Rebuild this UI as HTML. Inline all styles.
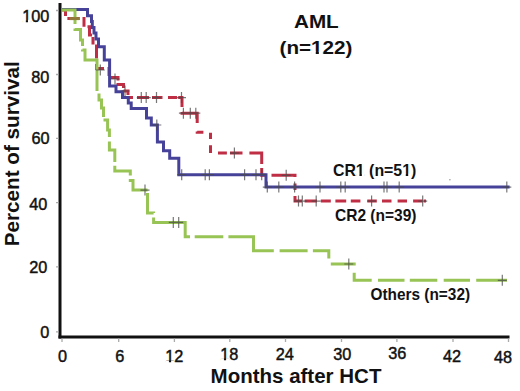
<!DOCTYPE html>
<html><head><meta charset="utf-8">
<style>
html,body{margin:0;padding:0;background:#fff;}
body{width:520px;height:391px;overflow:hidden;position:relative;}
svg{position:absolute;left:0;top:0;}
.t{font-family:"Liberation Sans",sans-serif;}
</style></head><body>
<svg width="520" height="391" viewBox="0 0 520 391">
<g stroke="#111" stroke-width="3" fill="none" stroke-linecap="butt">
<path d="M60,3 V338.5"/>
<path d="M58.5,337 H509.5"/>
</g>
<g stroke="#aaa" stroke-width="1.3">
<path d="M56,10.5 H58.5 M56,74.5 H58.5 M56,138.4 H58.5 M56,202.7 H58.5 M56,266.8 H58.5 M56,331.9 H58.5"/>
<path d="M62,338.5 V342 M118.7,338.5 V342 M174.4,338.5 V342 M229.8,338.5 V342 M285.5,338.5 V342 M341.5,338.5 V342 M396.9,338.5 V342 M453,338.5 V342 M508.5,338.5 V342"/>
</g>
<g class="t" font-size="16.3" fill="#111" stroke="#111" stroke-width="0.45" text-anchor="end">
<text x="49.3" y="21.7">100</text>
<text x="49.3" y="82.8">80</text>
<text x="49.5" y="143.9">60</text>
<text x="47.3" y="210.1">40</text>
<text x="47.3" y="272.6">20</text>
<text x="49.3" y="337.6">0</text>
</g>
<g class="t" font-size="16.3" fill="#111" stroke="#111" stroke-width="0.45" text-anchor="middle">
<text x="62.6" y="362.3">0</text>
<text x="119.8" y="362.3">6</text>
<text x="174.3" y="362.3">12</text>
<text x="229.3" y="360">18</text>
<text x="284.7" y="360.4">24</text>
<text x="342.2" y="360.4">30</text>
<text x="397.3" y="358.8">36</text>
<text x="452" y="361.5">42</text>
<text x="503" y="363.4">48</text>
</g>
<text class="t" x="296" y="383.0" font-size="20.5" font-weight="bold" fill="#111" text-anchor="middle">Months after HCT</text>
<text class="t" transform="translate(18.9,153.8) rotate(-90)" x="0" y="0" font-size="20.7" font-weight="bold" fill="#111" text-anchor="middle">Percent of survival</text>
<g class="t" font-weight="bold" fill="#111">
<text x="293.96" y="28.2" font-size="19" textLength="44.8" lengthAdjust="spacingAndGlyphs">AML</text>
<text x="279.5" y="54" font-size="19" textLength="73" lengthAdjust="spacingAndGlyphs">(n=122)</text>
</g>
<g class="t" font-size="16.3" font-weight="bold" fill="#111">
<text x="332.95" y="176" textLength="83.4" lengthAdjust="spacingAndGlyphs">CR1 (n=51)</text>
<text x="335" y="221" textLength="81.5" lengthAdjust="spacingAndGlyphs">CR2 (n=39)</text>
<text x="370.5" y="299.9" textLength="99.6" lengthAdjust="spacingAndGlyphs">Others (n=32)</text>
</g>
<g fill="#fff"><rect x="22.87" y="19.87" width="2.96" height="3.18"/><rect x="28.00" y="19.87" width="2.93" height="3.18"/><rect x="165.98" y="360.47" width="2.96" height="3.18"/><rect x="171.11" y="360.47" width="2.93" height="3.18"/><rect x="220.98" y="358.17" width="2.96" height="3.18"/><rect x="226.11" y="358.17" width="2.93" height="3.18"/><rect x="311.83" y="51.51" width="3.94" height="3.84"/><rect x="318.85" y="51.51" width="3.73" height="3.84"/><rect x="356.34" y="173.83" width="3.08" height="3.52"/><rect x="361.86" y="173.83" width="2.93" height="3.52"/><rect x="402.68" y="173.83" width="3.08" height="3.52"/><rect x="408.20" y="173.83" width="2.93" height="3.52"/></g>
<g fill="none" stroke-width="3" stroke-linejoin="miter" stroke-linecap="butt">
<path stroke="#bf2e44" d="M62,10 L65.5,10 L65.5,16 M67.4,18.6 L79.7,18.6 M82.5,18.6 L84,18.6 L84,26.8 M87.5,26.8 L89.5,26.8 L89.5,35 L92,35 M93,37 L93,43 L94.5,43 M96.5,44.5 L96.5,51.2 L96.5,58.5 M96.5,64 L96.5,68.5 L104,68.5 M107.5,68.5 L109,68.5 L109,76 M110.5,77.5 L118,77.5 L118,80.5 M118,83 L118,84.5 L123.5,84.5 L123.5,88 M123.5,90.5 L123.5,91 L128,91 L128,95 M128,97 L128,97.6 L133,97.6 M137,97.6 L149,97.6 M152,97.6 L162.5,97.6 M168,97.6 L177,97.6 M178.2,97.6 L182,97.6 L182,107 M182,112 L182,113.2 L197.2,113.2 L197.2,123 M197.2,131.5 L197.2,132.2 L203.4,132.2 M210.5,132.7 L210.5,139 M210.5,145.3 L210.5,153.1 M218,153.1 L226.9,153.1 M230,153.1 L242.5,153.1 M249.4,153.1 L261.7,153.1 L261.7,164 M261.7,168 L261.7,175.3 L266,175.3 M271.5,175.3 L295,175.3 L295,177 M295,183.5 L295,190 M295,196 L295,201.1 L302,201.1 M304.6,201.1 L317,201.1 M320.8,201.1 L330.8,201.1 M335.4,201.1 L346.2,201.1 M350.8,201.1 L360.4,201.1 M367.3,201.1 L376.8,201.1 M382,201.1 L391.5,201.1 M397.6,201.1 L407,201.1 M413.1,201.1 L422.7,201.1 M423.7,201.1 L426,201.1"/>
<path stroke="#46429a" d="M62,9.6 H87.5 V15.7 H91.5 V21.5 H92.3 V27.5 H94 V33 H96 V39 H98.5 V46.8 H104.3 V60.1 H109.6 V86 H116 V91.8 H122.5 V97.6 H128.3 V103 H131.2 V108.6 H146.5 V118 H151.3 V125 H157.4 V142 H163.5 V150.7 H169.7 V158.3 H178.8 V174.7 H266 V187.1 H509.6"/>
<path stroke="#98c455" d="M62,10 L75,10 L75,24 M75,28.5 L75,29.5 L80.5,29.5 L80.5,40 L82.5,40 L82.5,46 M82.5,49.5 L82.5,50 L85,50 L85,60 L97,60 L97,91 M99,93.5 L99,100 L101.5,100 L101.5,108 L103.5,108 L103.5,117 M103.5,120 L107.6,120 L107.6,130 L109.4,130 L109.4,137 M109.4,141.5 L109.4,150 L114.8,150 L114.8,162 M114.8,165.7 L114.8,171 L130.3,171 L130.3,175.6 M130.3,179 L130.3,180.6 L133,180.6 L133,190.1 L147.5,190.1 M147.5,193.1 L147.5,212.9 L153.6,212.9 L153.6,213 M153.6,217.5 L153.6,222.4 L185.2,222.4 L185.2,236.8 L190,236.8 M194.7,236.8 L223.3,236.8 M228.4,236.8 L253.5,236.8 L253.5,250.8 L273.8,250.8 M279.6,250.8 L307.6,250.8 M312.9,250.8 L328.8,250.8 L328.8,258.5 M330.8,264 L354.2,264 L354.2,265.5 M354.2,272.8 L354.2,280.3 L371.7,280.3 M378,280.3 L404.5,280.3 M409.8,280.3 L437.3,280.3 M443.7,280.3 L470,280.3 M476.2,280.3 L507,280.3"/>
</g>
<g stroke="#4a4a4a" stroke-width="1.2" fill="none" stroke-opacity="0.75">
<path d="M156.8,119.5 V130.5 M152.3,125 H161.3 M181.7,169.2 V180.2 M177.2,174.7 H186.2 M205.2,169.2 V180.2 M200.7,174.7 H209.7 M209.4,169.2 V180.2 M204.9,174.7 H213.9 M244.6,169.2 V180.2 M240.1,174.7 H249.1 M256,169.2 V180.2 M251.5,174.7 H260.5 M261.7,169.2 V180.2 M257.2,174.7 H266.2 M267.3,181.6 V192.6 M262.8,187.1 H271.8 M278.8,181.6 V192.6 M274.3,187.1 H283.3 M294.6,181.6 V192.6 M290.1,187.1 H299.1 M320,181.6 V192.6 M315.5,187.1 H324.5 M340.8,181.6 V192.6 M336.3,187.1 H345.3 M345.2,181.6 V192.6 M340.7,187.1 H349.7 M384,181.6 V192.6 M379.5,187.1 H388.5 M387,181.6 V192.6 M382.5,187.1 H391.5 M399.2,181.6 V192.6 M394.7,187.1 H403.7 M506.8,181.6 V192.6 M502.3,187.1 H511.3"/>
<path d="M100.3,64.5 V75.5 M95.8,70 H104.8 M115,73.5 V84.5 M110.5,79 H119.5 M125,85.5 V96.5 M120.5,91 H129.5 M141.3,92.1 V103.1 M136.8,97.6 H145.8 M146.2,92.1 V103.1 M141.7,97.6 H150.7 M156.5,92.1 V103.1 M152,97.6 H161 M181.5,92.1 V103.1 M177,97.6 H186 M183.4,107.7 V118.7 M178.9,113.2 H187.9 M190.3,107.7 V118.7 M185.8,113.2 H194.8 M195.8,107.7 V118.7 M191.3,113.2 H200.3 M234.4,147.6 V158.6 M229.9,153.1 H238.9 M286.2,169.8 V180.8 M281.7,175.3 H290.7 M298.5,195.6 V206.6 M294,201.1 H303 M302.3,195.6 V206.6 M297.8,201.1 H306.8 M316.2,195.6 V206.6 M311.7,201.1 H320.7 M371.6,195.6 V206.6 M367.1,201.1 H376.1 M422.7,195.6 V206.6 M418.2,201.1 H427.2"/>
<path d="M145,184.6 V195.6 M140.5,190.1 H149.5 M173.3,216.9 V227.9 M168.8,222.4 H177.8 M178.7,216.9 V227.9 M174.2,222.4 H183.2 M348.8,258.5 V269.5 M344.3,264 H353.3 M502.3,274.8 V285.8 M497.8,280.3 H506.8"/>
</g>
<circle cx="449.9" cy="179.8" r="0.8" fill="#999"/>
<path d="M69.5,18.6 H79.5" stroke="#8f7a3a" stroke-width="3" fill="none"/>
</svg>
</body></html>
